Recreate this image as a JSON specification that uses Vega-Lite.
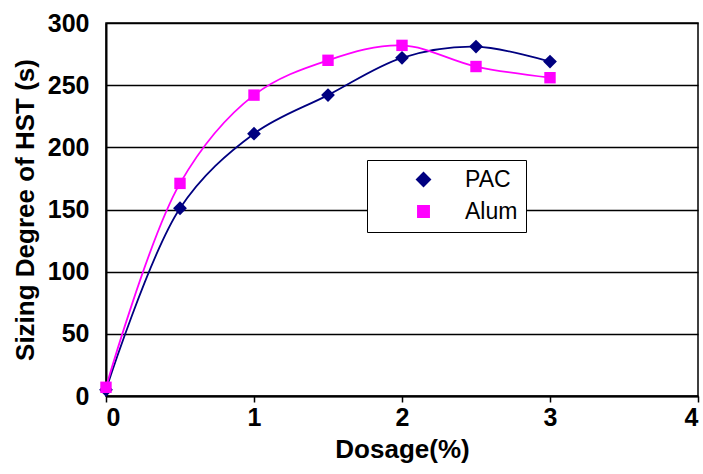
{
  "$schema": "https://vega.github.io/schema/vega-lite/v6.json",
  "autosize": "none",
  "width": 592,
  "height": 373,
  "padding": {"left": 106, "top": 23, "right": 5, "bottom": 78},
  "background": "white",
  "config": {
    "font": "Liberation Sans",
    "view": {"stroke": "black", "strokeWidth": 1.5}
  },
  "data": {
    "values": [
      {"dosage": 0, "value": 5, "series": "PAC"},
      {"dosage": 0.5, "value": 151, "series": "PAC"},
      {"dosage": 1, "value": 211, "series": "PAC"},
      {"dosage": 1.5, "value": 242, "series": "PAC"},
      {"dosage": 2, "value": 272, "series": "PAC"},
      {"dosage": 2.5, "value": 281, "series": "PAC"},
      {"dosage": 3, "value": 269, "series": "PAC"},
      {"dosage": 0, "value": 7, "series": "Alum"},
      {"dosage": 0.5, "value": 171, "series": "Alum"},
      {"dosage": 1, "value": 242, "series": "Alum"},
      {"dosage": 1.5, "value": 270, "series": "Alum"},
      {"dosage": 2, "value": 282, "series": "Alum"},
      {"dosage": 2.5, "value": 265, "series": "Alum"},
      {"dosage": 3, "value": 256, "series": "Alum"}
    ]
  },
  "encoding": {
    "x": {
      "field": "dosage", "type": "quantitative",
      "scale": {"domain": [0, 4], "nice": false},
      "axis": {
        "title": "Dosage(%)", "titleFontSize": 26, "titleFontWeight": "bold", "titleColor": "black",
        "titlePadding": 6,
        "values": [0, 1, 2, 3, 4], "format": "d", "grid": false,
        "labelFontSize": 25, "labelFontWeight": "bold", "labelColor": "black", "labelPadding": 3,
        "domainColor": "black", "domainWidth": 2, "tickColor": "black", "tickWidth": 1.5, "tickSize": 6
      }
    },
    "y": {
      "field": "value", "type": "quantitative",
      "scale": {"domain": [0, 300], "nice": false},
      "axis": {
        "title": "Sizing Degree of HST (s)", "titleFontSize": 26, "titleFontWeight": "bold", "titleColor": "black",
        "titlePadding": 9,
        "values": [0, 50, 100, 150, 200, 250, 300], "grid": true, "gridColor": "black", "gridWidth": 1.5, "gridOpacity": 1,
        "ticks": false,
        "labelFontSize": 25, "labelFontWeight": "bold", "labelColor": "black", "labelPadding": 17,
        "domainColor": "black", "domainWidth": 2
      }
    },
    "color": {
      "field": "series", "type": "nominal",
      "scale": {"domain": ["PAC", "Alum"], "range": ["#000080", "#FF00FF"]},
      "legend": {
        "title": null,
        "orient": "none",
        "legendX": 261,
        "legendY": 137,
        "fillColor": "white",
        "strokeColor": "black",
        "padding": 8,
        "labelFontSize": 23,
        "labelColor": "black",
        "symbolOffset": 37,
        "labelOffset": 30,
        "symbolSize": 120,
        "rowPadding": 8,
        "symbolOpacity": 1
      }
    }
  },
  "layer": [
    {
      "mark": {"type": "line", "interpolate": "catmull-rom", "strokeWidth": 1.8}
    },
    {
      "mark": {"type": "point", "filled": true, "opacity": 1},
      "encoding": {
        "shape": {
          "field": "series", "type": "nominal",
          "scale": {"domain": ["PAC", "Alum"], "range": ["diamond", "square"]}
        },
        "size": {
          "field": "series", "type": "nominal",
          "scale": {"domain": ["PAC", "Alum"], "range": [190, 130]}
        }
      }
    }
  ]
}
